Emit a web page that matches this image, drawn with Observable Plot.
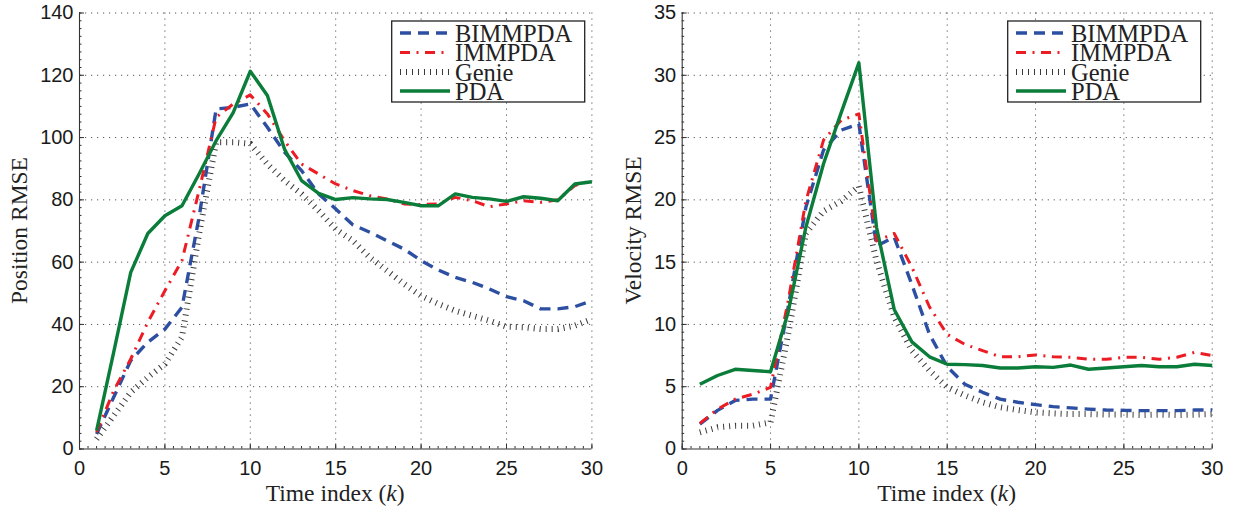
<!DOCTYPE html>
<html><head><meta charset="utf-8">
<script src="https://cdn.jsdelivr.net/npm/d3@7"></script>
<script src="https://cdn.jsdelivr.net/npm/@observablehq/plot@0.6"></script>
<style>
body{margin:0;background:#fff;}
#wrap{position:relative;width:1233px;height:512px;background:#fff;}
#wrap > svg{position:absolute;top:0;overflow:visible;}
</style></head><body><div id="wrap"></div>
<script>
const timeIndex = [1,2,3,4,5,6,7,8,9,10,11,12,13,14,15,16,17,18,19,20,21,22,23,24,25,26,27,28,29,30];
const seriesNames = ["BIMMPDA","IMMPDA","Genie","PDA"];

const posBIMMPDA = [4.8,16.6,28.4,34.3,38.5,45.5,74.4,109.2,109.7,110.8,103.3,95.3,89.4,81.9,77.1,72,69.6,66.9,64.2,60.5,57.5,55.1,53.5,51.4,48.9,47.6,45,45,45.7,47.6];
const posIMMPDA  = [5.4,18.7,28.9,40.7,50.8,60.5,83,106.5,110.8,113.7,107.6,99,91.5,88.3,85.1,83,81.3,80.3,78.7,78.5,78.7,80.8,79.7,77.8,78.7,79.7,79.2,80,84.6,86.2];
const posGenie   = [3.2,10.7,18.2,23,27.3,35.9,69,98.5,98.5,98,91.5,86.2,81.9,76.5,70.6,66.9,61.5,57.3,53,49.2,46.6,44.4,42.8,41.2,39.3,39.1,38.5,38.5,39.6,41.7];
const posPDA     = [5.9,31,56.7,69.2,74.9,78.1,88.3,99,108,121.3,113.5,96.3,86.2,82.1,80.1,80.7,80.3,80.1,79.2,78.1,78.1,81.9,80.8,80.3,79.5,81,80.5,79.7,85.1,85.8];

const velBIMMPDA = [2.0,3.1,3.9,4.0,4.0,11.4,19.4,24.0,25.6,26.1,16.3,17.0,13.2,9.2,6.6,5.2,4.55,4.0,3.75,3.56,3.4,3.3,3.2,3.13,3.1,3.08,3.08,3.08,3.13,3.13];
const velIMMPDA  = [2.06,3.2,4.0,4.4,4.95,11.9,19.9,24.8,26.4,26.9,16.7,17.3,14.6,11.4,9.2,8.4,7.9,7.4,7.4,7.55,7.4,7.36,7.2,7.2,7.36,7.36,7.2,7.36,7.76,7.5];
const velGenie   = [1.34,1.74,1.87,1.87,2.14,9.2,17.3,19.1,19.9,21.1,15.1,10.6,7.9,6.3,4.95,4.3,3.75,3.35,3.13,2.94,2.86,2.8,2.8,2.76,2.76,2.73,2.76,2.73,2.76,2.8];
const velPDA     = [5.2,5.9,6.4,6.3,6.2,11,17.8,22.9,27,31,17.8,11.2,8.6,7.4,6.8,6.77,6.7,6.5,6.5,6.6,6.55,6.74,6.4,6.5,6.6,6.7,6.6,6.6,6.8,6.7];

const xTicks = [0,5,10,15,20,25,30];
const posTicks = [0,20,40,60,80,100,120,140];
const velTicks = [0,5,10,15,20,25,30,35];

const styles = {
  BIMMPDA: {stroke:"#2d4fa2", strokeWidth:3.4, strokeDasharray:"11,7"},
  IMMPDA:  {stroke:"#ec1c24", strokeWidth:3.0, strokeDasharray:"10,6.5,2,6.5"},
  Genie:   {stroke:"#3a3a3a", strokeWidth:6, strokeDasharray:"1,5"},
  PDA:     {stroke:"#0b7d3a", strokeWidth:3.4, strokeDasharray:null}
};

function panel(opts) {
  const {vals, yTicks, yMinorStep, yLabel, width, ml, mr, left} = opts;
  const yMax = yTicks[yTicks.length-1];
  const xMinor = d3.range(0, 30.0001, 0.5);
  const yMinor = d3.range(0, yMax+0.0001, yMinorStep);
  const rows = [];
  seriesNames.forEach((s, si) => timeIndex.forEach((k, i) => rows.push({s, k, v: vals[si][i]})));
  const gridStyle = {stroke:"#555", strokeOpacity:1, strokeWidth:1, strokeDasharray:"1.2,4.8"};
  const plot = Plot.plot({
    width, height:512, marginLeft:ml, marginRight:mr, marginTop:12.5, marginBottom:63.5,
    x:{domain:[0,30], label:null},
    y:{domain:[0,yMax], label:null},
    style:{fontFamily:"'Liberation Sans', Arial, sans-serif", fontSize:"20px", color:"#222", background:"white", overflow:"visible"},
    marks:[
      Plot.gridX(xTicks.slice(1), gridStyle),
      Plot.gridY(yTicks.slice(1), gridStyle),
      Plot.axisX(xMinor, {tickSize:2.5, dy:-2.5, tickFormat:()=>"", label:null, stroke:"#333"}),
      Plot.axisX(xTicks, {tickSize:5, dy:-5, tickFormat:()=>"", label:null, stroke:"#333"}),
      Plot.axisX(xTicks, {tickSize:0, tickPadding:11.5, label:null, fill:"#1a1a1a"}),
      Plot.axisY(yMinor, {tickSize:2.5, dx:2.5, tickFormat:()=>"", label:null, stroke:"#333"}),
      Plot.axisY(yTicks, {tickSize:5, dx:5, tickFormat:()=>"", label:null, stroke:"#333"}),
      Plot.axisY(yTicks, {tickSize:0, tickPadding:6, label:null, fill:"#1a1a1a"}),
      Plot.ruleX([0], {stroke:"#333", strokeWidth:1.1}),
      Plot.ruleY([0], {stroke:"#333", strokeWidth:1.1}),
      ...seriesNames.map(s => Plot.line(rows.filter(d => d.s === s), {x:"k", y:"v", ...styles[s], strokeLinecap:"butt", strokeLinejoin:"round"}))
    ]
  });
  plot.style.left = left + "px";
  const svg = d3.select(plot);
  const xs = plot.scale("x"), ys = plot.scale("y");
  const cx = (xs.apply(0) + xs.apply(30)) / 2;
  const cy = (ys.apply(0) + ys.apply(yMax)) / 2;
  const serif = "'Liberation Serif', 'Times New Roman', serif";
  const xl = svg.append("text").attr("x", cx).attr("y", 501).attr("text-anchor","middle")
    .attr("font-family", serif).attr("font-size", 23.5).attr("fill","#222");
  xl.append("tspan").text("Time index (");
  xl.append("tspan").attr("font-style","italic").text("k");
  xl.append("tspan").text(")");
  svg.append("text").attr("transform", `translate(${opts.ylx},${cy}) rotate(-90)`)
    .attr("text-anchor","middle").attr("dominant-baseline","central")
    .attr("font-family", serif).attr("font-size", 23.5).attr("fill","#222").text(yLabel);
  // legend
  const lg = svg.append("g").attr("text-anchor","start");
  lg.append("rect").attr("x",391.7).attr("y",21).attr("width",193).attr("height",81)
    .attr("fill","white").attr("stroke","#222").attr("stroke-width",1.3);
  const rowY = [33,52.5,72,91];
  seriesNames.forEach((s, i) => {
    const st = styles[s];
    lg.append("line").attr("x1",400).attr("x2",450).attr("y1",rowY[i]).attr("y2",rowY[i])
      .attr("stroke",st.stroke).attr("stroke-width",st.strokeWidth)
      .attr("stroke-dasharray", st.strokeDasharray).attr("stroke-linecap","butt");
    lg.append("text").attr("x",455).attr("y",rowY[i]+8.5).attr("text-anchor","start").attr("font-family",serif)
      .attr("font-size",24.5).attr("fill","#222").text(s);
  });
  return plot;
}

const wrap = document.getElementById("wrap");
wrap.append(panel({vals:[posBIMMPDA,posIMMPDA,posGenie,posPDA], yTicks:posTicks, yMinorStep:2.5, yLabel:"Position RMSE", width:616, ml:79, mr:24.6, left:0, ylx:19}));
wrap.append(panel({vals:[velBIMMPDA,velIMMPDA,velGenie,velPDA], yTicks:velTicks, yMinorStep:0.625, yLabel:"Velocity RMSE", width:617, ml:65.7, mr:21.3, left:616, ylx:16.5}));
</script></body></html>
